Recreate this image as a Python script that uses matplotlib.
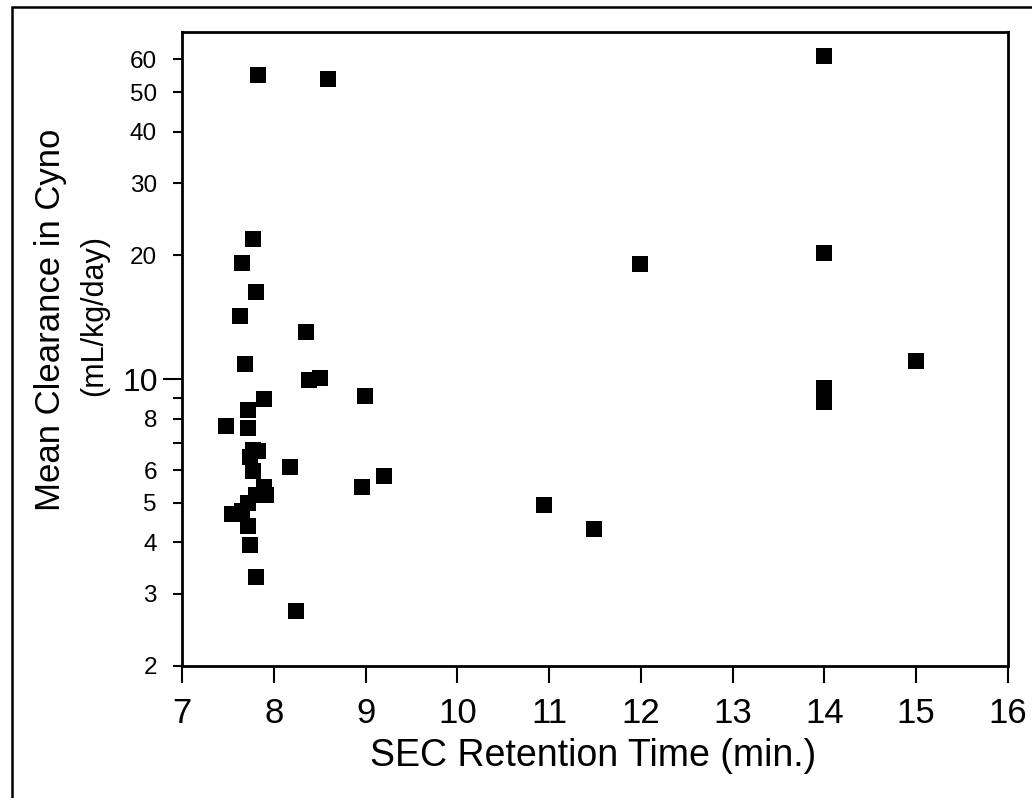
#!/usr/bin/env python3

import matplotlib
matplotlib.use("Agg")
import matplotlib.pyplot as plt
from matplotlib.patches import Rectangle
from matplotlib.ticker import FixedLocator, FixedFormatter, NullFormatter

plt.rcParams["font.family"] = ["Liberation Sans", "DejaVu Sans"]

# SEC retention time (min.) vs mean clearance in cyno (mL/kg/day)
ret_time = [7.83, 8.59, 14.0, 7.77, 7.65, 7.81, 7.63, 8.35, 7.69, 8.38,
            8.50, 7.89, 8.99, 7.72, 7.48, 7.72, 7.77, 7.83, 7.74, 7.77,
            8.18, 9.20, 8.96, 7.89, 7.81, 7.92, 7.72, 7.54, 7.65, 7.72,
            7.74, 7.81, 8.24, 14.0, 11.99, 14.0, 14.0, 10.94, 11.49, 15.0]
clearance = [55.0, 53.8, 61.1, 21.9, 19.2, 16.3, 14.2, 13.0, 10.9, 9.95,
             10.07, 8.94, 9.09, 8.41, 7.69, 7.61, 6.73, 6.66, 6.44, 5.98,
             6.09, 5.82, 5.47, 5.47, 5.23, 5.23, 5.00, 4.70, 4.78, 4.38,
             3.94, 3.29, 2.72, 20.3, 19.1, 9.51, 8.80, 4.92, 4.30, 11.06]

x_ticks = [7, 8, 9, 10, 11, 12, 13, 14, 15, 16]
y_minor = [2, 3, 4, 5, 6, 7, 8, 9, 20, 30, 40, 50, 60]
y_minor_labels = ["2", "3", "4", "5", "6", "", "8", "", "20", "30", "40", "50", "60"]

fig = plt.figure()
fig.set_size_inches(10.32, 7.98)
ax = fig.add_axes([182 / 1032, 1 - 666 / 798, (1008 - 182) / 1032, (666 - 32) / 798])

ax.plot(ret_time, clearance, 's', color='black', markersize=11.5, markeredgewidth=0)

ax.set_yscale("log")
ax.set_xlim(7, 16)
ax.set_ylim(2, 70)

ax.set_xticks(x_ticks)
ax.set_xticklabels([str(t) for t in x_ticks])
ax.tick_params(axis='x', which='major', length=12, width=1.5, labelsize=25, pad=10)
ax.xaxis.set_minor_formatter(NullFormatter())
ax.tick_params(axis='x', which='minor', length=0)

ax.yaxis.set_major_locator(FixedLocator([10]))
ax.yaxis.set_major_formatter(FixedFormatter(["10"]))
ax.yaxis.set_minor_locator(FixedLocator(y_minor))
ax.yaxis.set_minor_formatter(FixedFormatter(y_minor_labels))
ax.tick_params(axis='y', which='major', length=14, width=1.5, labelsize=23, pad=3.5)
ax.tick_params(axis='y', which='minor', length=6.5, width=1.5, labelsize=17.5, pad=11.5)

for s in ax.spines.values():
    s.set_linewidth(2)

fig.text(51 / 1032, 1 - 320 / 798, "Mean Clearance in Cyno", rotation=90,
         fontsize=25, ha='center', va='center')
fig.text(94 / 1032, 1 - 315 / 798, "(mL/kg/day)", rotation=90,
         fontsize=22, ha='center', va='center')
fig.text(593 / 1032, 1 - 766 / 798, "SEC Retention Time (min.)",
         fontsize=27, ha='center', va='baseline')

# outer frame, cut off at right and bottom
fig.patches.append(Rectangle((12 / 1032, -0.1), 1.2, 1.1 - 7 / 798,
                             transform=fig.transFigure, fill=False,
                             edgecolor='black', linewidth=1.8))

fig.savefig('out.png', dpi=100)
